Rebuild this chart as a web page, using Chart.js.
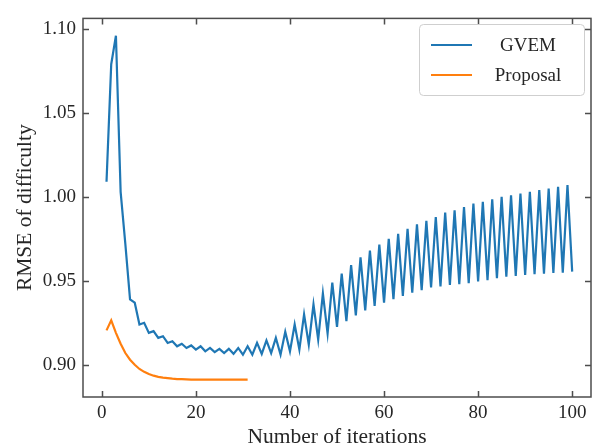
<!DOCTYPE html>
<html>
<head>
<meta charset="utf-8">
<script src="https://cdn.jsdelivr.net/npm/chart.js@4.4.1/dist/chart.umd.min.js"></script>
<style>
  html, body { margin: 0; padding: 0; background: #fff; }
  #wrap { width: 594px; height: 448px; }
</style>
</head>
<body>
<div id="wrap"><canvas id="rmseChart" width="594" height="448"></canvas></div>
<script>
// RMSE of difficulty per iteration
const gvemRmse = [
    1.009, 1.079, 1.096, 1.003, 0.972, 0.939, 0.937, 0.924, 0.925, 0.919,
    0.920, 0.916, 0.917, 0.913, 0.914, 0.911, 0.9125, 0.910, 0.9115, 0.909,
    0.911, 0.908, 0.910, 0.9075, 0.9095, 0.907, 0.9095, 0.9065, 0.910, 0.906,
    0.911, 0.906, 0.913, 0.9065, 0.9145, 0.907, 0.916, 0.906, 0.9196, 0.908,
    0.924, 0.909, 0.930, 0.912, 0.936, 0.915, 0.9425, 0.9186, 0.949, 0.9225,
    0.9543, 0.926, 0.9594, 0.9294, 0.964, 0.9324, 0.968, 0.935, 0.9716, 0.937,
    0.975, 0.939, 0.978, 0.941, 0.981, 0.943, 0.9837, 0.9445, 0.9857, 0.946,
    0.988, 0.9466, 0.9907, 0.9475, 0.992, 0.948, 0.994, 0.9486, 0.996, 0.9496,
    0.997, 0.9504, 0.9986, 0.9516, 1.000, 0.9524, 1.001, 0.9529, 1.002, 0.9535,
    1.003, 0.9539, 1.004, 0.9543, 1.005, 0.9547, 1.006, 0.9549, 1.007, 0.9555
];
const proposalRmse = [
    0.9205, 0.9265, 0.919, 0.9125, 0.907, 0.903, 0.900, 0.8975, 0.8958, 0.8945,
    0.8935, 0.8928, 0.8923, 0.892, 0.8917, 0.8915, 0.8914, 0.8913, 0.8912, 0.8912,
    0.8912, 0.8912, 0.8912, 0.8912, 0.8912, 0.8912, 0.8912, 0.8912, 0.8912, 0.8912,
    0.8912
];
const seriesNames = ['GVEM', 'Proposal'];
const seriesColors = ['#1f77b4', '#ff7f0e'];
const xTicks = [0, 20, 40, 60, 80, 100];
const yTicks = [0.90, 0.95, 1.00, 1.05, 1.10];

const FONT = "'Liberation Serif', 'Times New Roman', serif";
const TEXT = '#262626';
const SPINE = '#4d4d4d';

// x = iteration number (1-based)
const toPoints = arr => arr.map((v, i) => ({ x: i + 1, y: v }));

// frame on all four sides, inward ticks and the boxed legend
const framePlugin = {
    id: 'frame',
    afterDraw(chart) {
        const ctx = chart.ctx;
        const area = chart.chartArea;
        const xs = chart.scales.x, ys = chart.scales.y;
        const tick = 6;
        ctx.save();
        ctx.strokeStyle = SPINE;
        ctx.lineWidth = 1.5;
        ctx.strokeRect(area.left, area.top, area.right - area.left, area.bottom - area.top);
        ctx.beginPath();
        xTicks.forEach(v => {
            const px = Math.round(xs.getPixelForValue(v)) + 0.5;
            ctx.moveTo(px, area.bottom); ctx.lineTo(px, area.bottom - tick);
            ctx.moveTo(px, area.top); ctx.lineTo(px, area.top + tick);
        });
        yTicks.forEach(v => {
            const py = Math.round(ys.getPixelForValue(v)) + 0.5;
            ctx.moveTo(area.left, py); ctx.lineTo(area.left + tick, py);
            ctx.moveTo(area.right, py); ctx.lineTo(area.right - tick, py);
        });
        ctx.stroke();

        // legend
        const lx = 419, ly = 24, lw = 165, lh = 71;
        ctx.fillStyle = 'rgba(255,255,255,0.85)';
        ctx.strokeStyle = '#cfcfcf';
        ctx.lineWidth = 1;
        ctx.beginPath();
        ctx.roundRect(lx + 0.5, ly + 0.5, lw, lh, 4);
        ctx.fill();
        ctx.stroke();
        ctx.font = '19px ' + FONT;
        ctx.fillStyle = TEXT;
        ctx.textAlign = 'center';
        ctx.textBaseline = 'middle';
        chart.data.datasets.forEach((ds, i) => {
            const yy = ly + 21 + i * 30;
            ctx.strokeStyle = ds.borderColor;
            ctx.lineWidth = 2;
            ctx.beginPath();
            ctx.moveTo(lx + 12, yy); ctx.lineTo(lx + 53, yy);
            ctx.stroke();
            ctx.fillText(ds.label, lx + 109, yy + 1);
        });
        ctx.restore();
    }
};

const ctx = document.getElementById('rmseChart').getContext('2d');
const rmseChart = new Chart(ctx, {
    type: 'line',
    data: {
        datasets: [
            { label: seriesNames[0], data: toPoints(gvemRmse), borderColor: seriesColors[0], borderWidth: 2.2, pointRadius: 0, tension: 0, fill: false },
            { label: seriesNames[1], data: toPoints(proposalRmse), borderColor: seriesColors[1], borderWidth: 2.2, pointRadius: 0, tension: 0, fill: false }
        ]
    },
    options: {
        responsive: false,
        animation: false,
        layout: { padding: { top: 15, right: 3, left: 0, bottom: 0 } },
        plugins: { legend: { display: false }, tooltip: { enabled: false } },
        scales: {
            x: {
                type: 'linear',
                min: -4, max: 104,
                afterBuildTicks: s => { s.ticks = xTicks.map(v => ({ value: v })); },
                afterFit: s => { s.height = 51; },
                grid: { display: false, drawTicks: false },
                border: { display: false },
                ticks: { color: TEXT, padding: 5, font: { family: FONT, size: 19 }, maxRotation: 0 },
                title: { display: true, text: 'Number of iterations', color: TEXT, font: { family: FONT, size: 21.5, lineHeight: 1 }, padding: { top: 0, bottom: 0 } }
            },
            y: {
                min: 0.8808, max: 1.1063,
                afterBuildTicks: s => { s.ticks = yTicks.map(v => ({ value: v })); },
                afterFit: s => { s.width = 83; },
                grid: { display: false, drawTicks: false },
                border: { display: false },
                ticks: { color: TEXT, padding: 7, font: { family: FONT, size: 19 }, callback: v => v.toFixed(2) },
                title: { display: true, text: 'RMSE of difficulty', color: TEXT, font: { family: FONT, size: 21.5, lineHeight: 1 }, padding: { top: 15, bottom: 0 } }
            }
        }
    },
    plugins: [framePlugin]
});
</script>
</body>
</html>
